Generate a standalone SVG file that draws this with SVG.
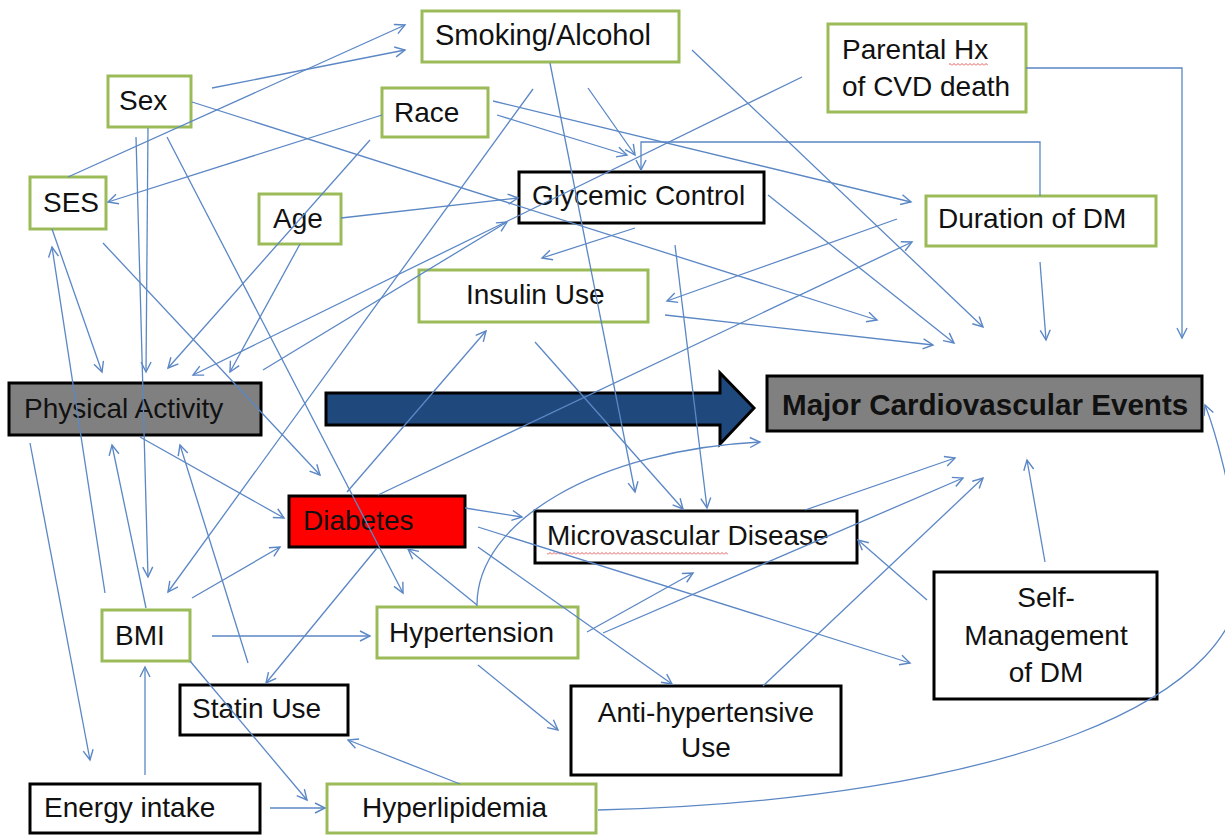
<svg xmlns="http://www.w3.org/2000/svg" width="1225" height="835" viewBox="0 0 1225 835">
<style>
.g{fill:#fff;stroke:#9BBB59;stroke-width:3}
.k{fill:#fff;stroke:#000;stroke-width:3}
.t{font-family:"Liberation Sans",Arial,sans-serif;font-size:28px;fill:#111}
.c{text-anchor:middle}
.e{fill:none;stroke:#5B87C5;stroke-width:1.3;marker-end:url(#ah)}
</style>
<defs>
<marker id="ah" markerUnits="userSpaceOnUse" markerWidth="14" markerHeight="14" refX="11" refY="6" orient="auto">
<path d="M1,1 L11,6 L1,11" fill="none" stroke="#5B87C5" stroke-width="1.4"/>
</marker>
<pattern id="sq" width="4" height="3" patternUnits="userSpaceOnUse">
<path d="M0,2.5 L2,0.5 L4,2.5" fill="none" stroke="#E04848" stroke-width="0.9"/>
</pattern>
</defs>
<rect width="1225" height="835" fill="#fff"/>

<g id="smoking"><rect class="g" x="422" y="11" width="257" height="51"/><text class="t" x="435" y="45" style="font-size:29px">Smoking/Alcohol</text></g>
<g id="sex"><rect class="g" x="108" y="76" width="83" height="51"/><text class="t" x="119" y="110">Sex</text></g>
<g id="race"><rect class="g" x="382" y="88" width="106" height="49"/><text class="t" x="394" y="122">Race</text></g>
<g id="ses"><rect class="g" x="30" y="177" width="76" height="52"/><text class="t" x="43" y="212">SES</text></g>
<g id="age"><rect class="g" x="259" y="194" width="82" height="50"/><text class="t" x="273" y="228">Age</text></g>
<g id="parental"><rect class="g" x="828" y="24" width="198" height="88"/><text class="t" x="842" y="59">Parental Hx</text><text class="t" x="842" y="96">of CVD death</text><rect x="949" y="63" width="39" height="3" fill="url(#sq)"/></g>
<g id="glycemic"><rect class="k" x="519" y="172" width="245" height="51"/><text class="t" x="532" y="205">Glycemic Control</text></g>
<g id="duration"><rect class="g" x="926" y="196" width="230" height="50"/><text class="t" x="938" y="228">Duration of DM</text></g>
<g id="insulin"><rect class="g" x="419" y="270" width="229" height="52"/><text class="t" x="466" y="304">Insulin Use</text></g>
<g id="pa"><rect x="9" y="383" width="252" height="52" fill="#808080" stroke="#000" stroke-width="3"/><text class="t" x="24" y="418">Physical Activity</text></g>
<g id="bigarrow"><polygon points="326,393 720,393 720,373 754,408 720,444 720,425 326,425" fill="#1F497D" stroke="#000" stroke-width="3" stroke-linejoin="miter"/></g>
<g id="mcve"><rect x="767" y="376" width="435" height="55" fill="#808080" stroke="#000" stroke-width="3"/><text class="t" x="782" y="415" style="font-size:29.6px;font-weight:bold">Major Cardiovascular Events</text></g>
<g id="diabetes"><rect x="289" y="496" width="176" height="51" fill="#FF0000" stroke="#000" stroke-width="3"/><text class="t" x="303" y="530">Diabetes</text></g>
<g id="micro"><rect class="k" x="535" y="511" width="322" height="52"/><text class="t" x="547" y="545">Microvascular Disease</text><rect x="547" y="552" width="181" height="3" fill="url(#sq)"/></g>
<g id="bmi"><rect class="g" x="102" y="610" width="88" height="51"/><text class="t" x="115" y="645">BMI</text></g>
<g id="hypertension"><rect class="g" x="377" y="607" width="201" height="51"/><text class="t" x="389" y="642">Hypertension</text></g>
<g id="statin"><rect class="k" x="180" y="685" width="168" height="50"/><text class="t" x="192" y="718">Statin Use</text></g>
<g id="antiht"><rect class="k" x="571" y="686" width="270" height="89"/><text class="t c" x="706" y="722">Anti-hypertensive</text><text class="t c" x="706" y="757">Use</text></g>
<g id="selfmgmt"><rect class="k" x="934" y="572" width="223" height="127"/><text class="t c" x="1046" y="607">Self-</text><text class="t c" x="1046" y="645">Management</text><text class="t c" x="1046" y="682">of DM</text></g>
<g id="energy"><rect class="k" x="30" y="784" width="230" height="49"/><text class="t" x="44" y="817">Energy intake</text></g>
<g id="hyperlipidemia"><rect class="g" x="327" y="784" width="269" height="49"/><text class="t" x="362" y="817">Hyperlipidemia</text></g>

<g id="connectors">
<path class="e" d="M68,177 L405,25"/>
<path class="e" d="M212,88 L405,50"/>
<path class="e" d="M192,102 L877,320"/>
<path class="e" d="M665,315 L933,345"/>
<path class="e" d="M768,195 L954,343"/>
<path class="e" d="M692,50 L983,327"/>
<path class="e" d="M493,101 L911,202"/>
<path class="e" d="M897,219 L667,301"/>
<path class="e" d="M378,495 L912,242"/>
<path class="e" d="M347,492 L486,331"/>
<path class="e" d="M1040,262 L1046,340"/>
<path class="e" d="M1026,68 L1182,68 L1182,338"/>
<path class="e" d="M1040,196 L1040,142 L641,142 L641,170"/>
<path class="e" d="M497,115 L627,155"/>
<path class="e" d="M588,88 L635,155"/>
<path class="e" d="M533,89 L168,592"/>
<path class="e" d="M802,77 L193,375"/>
<path class="e" d="M263,370 L507,222"/>
<path class="e" d="M52,229 L102,372"/>
<path class="e" d="M103,243 L320,475"/>
<path class="e" d="M148,128 L146,372"/>
<path class="e" d="M136,137 L148,577"/>
<path class="e" d="M370,140 L168,368"/>
<path class="e" d="M300,244 L230,372"/>
<path class="e" d="M167,137 L403,593"/>
<path class="e" d="M341,218 L518,198"/>
<path class="e" d="M382,115 L108,202"/>
<path class="e" d="M550,63 L635,492"/>
<path class="e" d="M675,245 L707,508"/>
<path class="e" d="M635,228 L542,258"/>
<path class="e" d="M535,342 L683,509"/>
<path class="e" d="M477,606 C476,520 600,450 760,442"/>
<path class="e" d="M465,508 L522,517"/>
<path class="e" d="M478,527 L910,663"/>
<path class="e" d="M478,547 L672,684"/>
<path class="e" d="M587,632 L693,573"/>
<path class="e" d="M805,510 L955,458"/>
<path class="e" d="M603,633 L963,478"/>
<path class="e" d="M763,686 L983,478"/>
<path class="e" d="M1045,562 L1027,460"/>
<path class="e" d="M598,810 C1000,800 1260,700 1240,560 C1232,490 1215,430 1205,405"/>
<path class="e" d="M927,600 L858,540"/>
<path class="e" d="M477,605 L408,549"/>
<path class="e" d="M478,665 L558,730"/>
<path class="e" d="M460,784 L348,740"/>
<path class="e" d="M30,443 L90,760"/>
<path class="e" d="M105,593 L52,247"/>
<path class="e" d="M146,608 L112,445"/>
<path class="e" d="M192,598 L280,547"/>
<path class="e" d="M248,663 L180,445"/>
<path class="e" d="M377,548 L266,683"/>
<path class="e" d="M212,636 L370,636"/>
<path class="e" d="M145,775 L145,667"/>
<path class="e" d="M190,661 L307,800"/>
<path class="e" d="M270,808 L325,808"/>
<path class="e" d="M140,437 L284,518"/>
</g>
</svg>
